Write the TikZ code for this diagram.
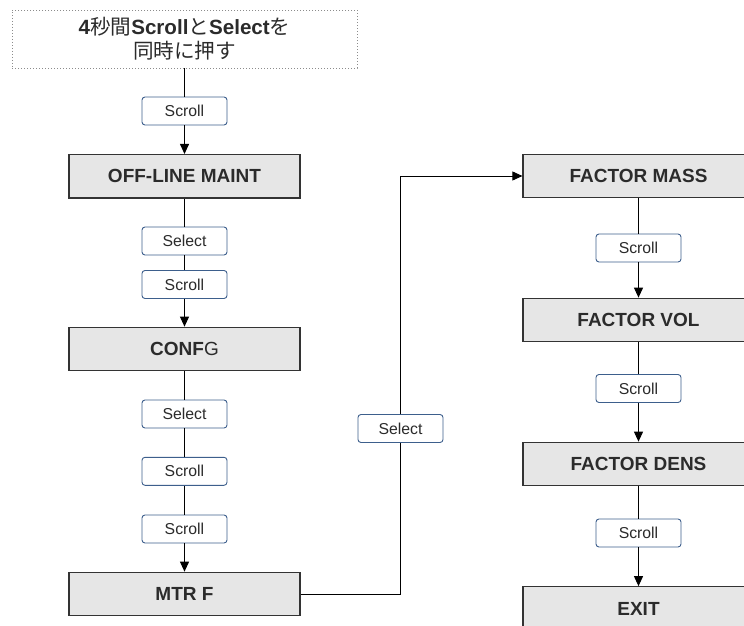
\documentclass[tikz,border=0pt]{standalone}
\usepackage{fontspec}
\setmainfont{Liberation Sans}
\newfontfamily\jp{Noto Sans CJK JP}
\usetikzlibrary{arrows.meta}
\definecolor{txt}{HTML}{2B2B2B}
\definecolor{boxfill}{HTML}{E6E6E6}
\definecolor{btnline}{HTML}{3D5F8C}
\tikzset{
  menubox/.style={draw=black!80, line width=1.2pt, fill=boxfill, minimum width=231pt, minimum height=43.5pt, inner sep=0pt, font=\fontsize{19}{22}\selectfont\bfseries, text=txt},
  btn/.style={draw=btnline, line width=0.9pt, rounded corners=3pt, fill=white, minimum width=85pt, minimum height=28pt, inner sep=0pt, font=\fontsize{15.8}{18}\selectfont, text=txt},
  conn/.style={draw=black, line width=0.9pt},
  arr/.style={conn, -{Triangle[length=10pt, width=9pt]}}
}
\begin{document}
\begin{tikzpicture}[x=1pt, y=-1pt]
\useasboundingbox (0,0) rectangle (744,626);
\clip (0,0) rectangle (744,626);
% top note
\node[draw=black!45, dash pattern=on 1pt off 2pt, line width=0.8pt, minimum width=345pt, minimum height=58pt, inner sep=0pt] (start) at (184.5,39) {};
\node[text=txt, font=\fontsize{20.6}{24}\selectfont] (l1) at (184.5,27) {\textbf{4}{\jp 秒間}\textbf{Scroll}{\jp と}\textbf{Select}{\jp を}};
\node[text=txt, font=\fontsize{20.6}{24}\selectfont] (l2) at (184.5,50.5) {\jp 同時に押す};
% left column
\node[btn] (scr0) at (184.5,111) {Scroll};
\node[menubox] (off) at (184.5,176.3) {OFF-LINE MAINT};
\node[btn] (sel1) at (184.5,241) {Select};
\node[btn] (scr1) at (184.5,284.5) {Scroll};
\node[menubox] (confg) at (184.5,349) {\textbf{CONF}\mdseries G};
\node[btn] (sel2) at (184.5,414) {Select};
\node[btn] (scr2) at (184.5,471.3) {Scroll};
\node[btn] (scr3) at (184.5,529) {Scroll};
\node[menubox] (mtrf) at (184.5,594) {MTR F};
% middle
\node[btn] (sel3) at (400.5,428.5) {Select};
% right column
\node[menubox] (fmass) at (638.5,176) {FACTOR MASS};
\node[btn] (scr4) at (638.5,248) {Scroll};
\node[menubox] (fvol) at (638.5,320) {FACTOR VOL};
\node[btn] (scr5) at (638.5,388.5) {Scroll};
\node[menubox] (fdens) at (638.5,464) {FACTOR DENS};
\node[btn] (scr6) at (638.5,533) {Scroll};
\node[menubox] (exit) at (638.5,608.5) {EXIT};
% connectors
\draw[conn] (start.south) -- (scr0.north);
\draw[arr] (scr0.south) -- (off.north);
\draw[conn] (off.south) -- (sel1.north);
\draw[conn] (sel1.south) -- (scr1.north);
\draw[arr] (scr1.south) -- (confg.north);
\draw[conn] (confg.south) -- (sel2.north);
\draw[conn] (sel2.south) -- (scr2.north);
\draw[conn] (scr2.south) -- (scr3.north);
\draw[arr] (scr3.south) -- (mtrf.north);
\draw[conn] (mtrf.east) -| (sel3.south);
\draw[arr] (sel3.north) |- (fmass.west);
\draw[conn] (fmass.south) -- (scr4.north);
\draw[arr] (scr4.south) -- (fvol.north);
\draw[conn] (fvol.south) -- (scr5.north);
\draw[arr] (scr5.south) -- (fdens.north);
\draw[conn] (fdens.south) -- (scr6.north);
\draw[arr] (scr6.south) -- (exit.north);
\end{tikzpicture}
\end{document}
